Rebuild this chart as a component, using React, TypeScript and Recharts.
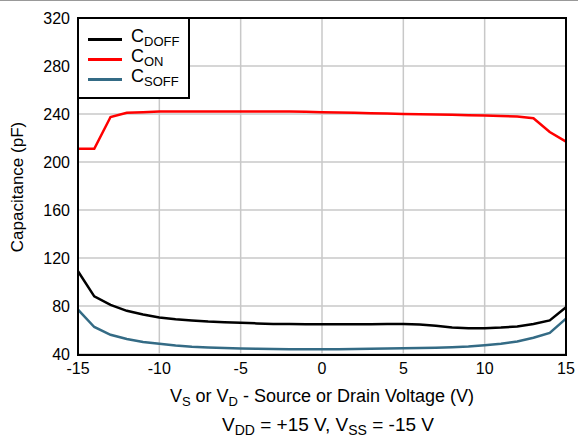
import { LineChart, Line, XAxis, YAxis, CartesianGrid } from "recharts";

const voltage = [
  -15, -14, -13, -12, -11, -10, -9, -8, -7, -6, -5, -4, -3, -2, -1, 0, 1, 2, 3, 4, 5, 6, 7, 8, 9, 10, 11,
  12, 13, 14, 15,
];
const cOn = [
  211, 211, 237.5, 241, 241.5, 242, 242, 242, 242, 242, 242, 242, 242, 242, 241.8, 241.5, 241.2, 241, 240.7,
  240.4, 240, 239.8, 239.5, 239.3, 239, 238.8, 238.4, 238, 236.5, 225, 217,
];
const cDoff = [
  109, 88, 81, 76, 73, 70.5, 69, 68, 67, 66.5, 66, 65.5, 65, 65, 64.8, 64.7, 64.7, 64.7, 64.8, 65, 65, 64.5,
  63.5, 62, 61.5, 61.5, 62, 63, 65, 68, 79,
];
const cSoff = [
  77, 62.5, 56, 52.5, 50, 48.5, 47, 46, 45.5, 45, 44.6, 44.4, 44.2, 44, 44, 44, 44, 44.1, 44.3, 44.5, 44.7,
  45, 45.3, 45.7, 46.2, 47.2, 48.5, 50.5, 53.5, 57.5, 69.5,
];
const xTicks = [-15, -10, -5, 0, 5, 10, 15];
const yTicks = [40, 80, 120, 160, 200, 240, 280, 320];

const data = voltage.map((v, i) => ({ v, on: cOn[i], doff: cDoff[i], soff: cSoff[i] }));

const font = "'Liberation Sans', Arial, sans-serif";
const tick = { fontSize: 16, fill: "#000", fontFamily: font };

const legendItems = [
  { color: "#000000", sub: "DOFF" },
  { color: "#ff0000", sub: "ON" },
  { color: "#346b85", sub: "SOFF" },
];

export default function App() {
  return (
    <div
      style={{
        position: "absolute",
        left: 0,
        top: 0,
        width: 578,
        height: 438,
        background: "#fff",
        fontFamily: font,
        borderTop: "1px solid #999",
        boxSizing: "border-box",
      }}
    >
      <div style={{ position: "absolute", left: 0, top: -1 }}>
        <LineChart width={578} height={438} data={data} margin={{ top: 18, right: 12, bottom: 64, left: 18 }}>
          <CartesianGrid stroke="#c8c8c8" strokeWidth={1.5} />
          <XAxis
            dataKey="v"
            type="number"
            domain={[-15, 15]}
            ticks={xTicks}
            tick={tick}
            tickSize={0}
            tickMargin={9}
            axisLine={false}
            height={20}
            interval={0}
          />
          <YAxis
            type="number"
            domain={[40, 320]}
            ticks={yTicks}
            tick={tick}
            tickSize={0}
            tickMargin={8}
            axisLine={false}
            width={60}
            interval={0}
          />
          <Line dataKey="on" stroke="#ff0000" strokeWidth={2.5} dot={false} isAnimationActive={false} />
          <Line dataKey="doff" stroke="#000000" strokeWidth={2.5} dot={false} isAnimationActive={false} />
          <Line dataKey="soff" stroke="#346b85" strokeWidth={2.5} dot={false} isAnimationActive={false} />
        </LineChart>
      </div>

      {/* plot frame */}
      <div
        style={{
          position: "absolute",
          left: 77,
          top: 16,
          width: 490,
          height: 339,
          border: "2.5px solid #000",
          boxSizing: "border-box",
          pointerEvents: "none",
        }}
      />

      {/* legend */}
      <div
        style={{
          position: "absolute",
          left: 77,
          top: 16,
          width: 113,
          height: 82,
          border: "2.5px solid #000",
          boxSizing: "border-box",
          background: "#fff",
        }}
      >
        {legendItems.map((it, i) => (
          <div
            key={it.sub}
            style={{ position: "absolute", left: 9, top: 10 + i * 20, display: "flex", alignItems: "center", height: 20 }}
          >
            <div style={{ width: 34, height: 3, background: it.color }} />
            <span style={{ marginLeft: 9, fontSize: 18, lineHeight: "20px", color: "#000" }}>
              C<sub style={{ fontSize: 13, verticalAlign: "-4px" }}>{it.sub}</sub>
            </span>
          </div>
        ))}
      </div>

      {/* y label */}
      <div
        style={{
          position: "absolute",
          left: 18,
          top: 186,
          transform: "translate(-50%, -50%) rotate(-90deg)",
          whiteSpace: "nowrap",
          fontSize: 17,
          lineHeight: "20px",
          color: "#000",
        }}
      >
        Capacitance (pF)
      </div>

      {/* x label */}
      <div
        style={{
          position: "absolute",
          left: 322,
          top: 395,
          transform: "translate(-50%, -50%)",
          whiteSpace: "nowrap",
          fontSize: 18,
          lineHeight: "20px",
          color: "#000",
        }}
      >
        V<sub style={{ fontSize: 13, verticalAlign: "-4px", lineHeight: 0 }}>S</sub> or V
        <sub style={{ fontSize: 13, verticalAlign: "-4px", lineHeight: 0 }}>D</sub> - Source or Drain Voltage (V)
      </div>

      {/* caption */}
      <div
        style={{
          position: "absolute",
          left: 328,
          top: 424,
          transform: "translate(-50%, -50%)",
          whiteSpace: "nowrap",
          fontSize: 19,
          lineHeight: "22px",
          color: "#000",
        }}
      >
        V<sub style={{ fontSize: 14, verticalAlign: "-4px", lineHeight: 0 }}>DD</sub> = +15 V, V
        <sub style={{ fontSize: 14, verticalAlign: "-4px", lineHeight: 0 }}>SS</sub> = -15 V
      </div>
    </div>
  );
}
